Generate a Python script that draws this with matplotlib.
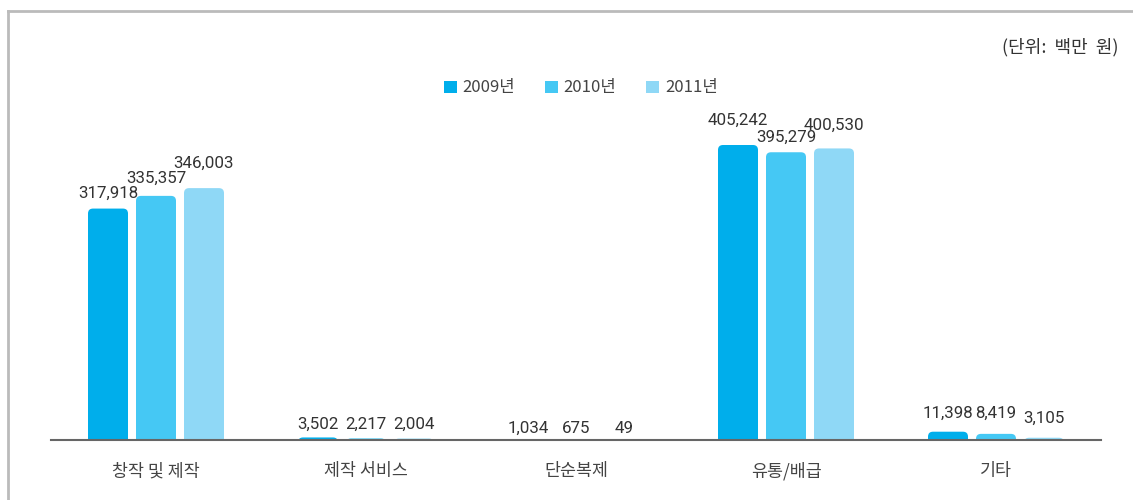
import matplotlib
matplotlib.use("Agg")
import matplotlib.pyplot as plt
from matplotlib.patches import FancyBboxPatch, Patch
from matplotlib.lines import Line2D
import numpy as np

plt.rcParams['font.family'] = ['Noto Sans CJK KR', 'DejaVu Sans']

categories = ['창작 및 제작', '제작 서비스', '단순복제', '유통/배급', '기타']
series_names = ['2009년', '2010년', '2011년']
v2009 = [317918, 3502, 1034, 405242, 11398]
v2010 = [335357, 2217, 675, 395279, 8419]
v2011 = [346003, 2004, 49, 400530, 3105]
unit_label = '(단위:  백만  원)'

# value-label lift above each bar (pixels), per series, per category
label_lift_px = [
    [11, 9, 6, 20, 14],
    [13, 10, 7, 10, 16],
    [20, 10, 7, 19, 15],
]

colors = ['#00AEEB', '#45C8F4', '#8FD8F6']
text_color = '#333333'

W, H = 1133, 500
fig = plt.figure(figsize=(W / 100, H / 100), dpi=100)
ax_left, ax_right = 51 / W, 1101 / W
ax_bottom, ax_top = (H - 440) / H, (H - 100) / H
ax = fig.add_axes([ax_left, ax_bottom, ax_right - ax_left, ax_top - ax_bottom])

ymax = 405242 * 340 / 295
ax.set_xlim(-0.5, len(categories) - 0.5)
ax.set_ylim(0, ymax)

x = np.arange(len(categories))
bw = 40 / 210
step = 48 / 210
all_vals = [v2009, v2010, v2011]

xpp = (len(categories)) / 1050
ypp = ymax / 340
aspect = ypp / xpp
r = 5 * xpp

for i, (vals, c, name) in enumerate(zip(all_vals, colors, series_names)):
    bars = ax.bar(x + (i - 1) * step, vals, width=bw, color=c, label=name)
    for j, (b, v) in enumerate(zip(bars, vals)):
        bx, bwid, bh = b.get_x(), b.get_width(), b.get_height()
        b.set_visible(False)
        p = FancyBboxPatch((bx, -r * aspect * 2), bwid, bh + r * aspect * 2,
                           boxstyle=f"round,pad=0,rounding_size={r}",
                           mutation_aspect=aspect, facecolor=c, edgecolor='none',
                           clip_on=True)
        ax.add_patch(p)
        ax.annotate(f"{v:,}", (bx + bwid / 2, bh), xytext=(0, label_lift_px[i][j]),
                    textcoords='offset pixels', ha='center', va='baseline',
                    fontsize=12.2, color=text_color, family=['Roboto', 'DejaVu Sans'])

for s in ['top', 'right', 'left']:
    ax.spines[s].set_visible(False)
ax.spines['bottom'].set_color('#666666')
ax.spines['bottom'].set_linewidth(1.5)
ax.set_yticks([])
ax.set_xticks(x)
ax.set_xticklabels(categories, fontsize=12.5, color='#444444')
ax.tick_params(axis='x', length=0, pad=16)

handles = [Patch(facecolor=c, edgecolor='none') for c in colors]
fig.legend(handles, series_names, loc='center', bbox_to_anchor=(581 / W, 1 - 88 / H),
           ncol=3, frameon=False, fontsize=12, handlelength=0.75, handleheight=0.75,
           handletextpad=0.35, columnspacing=1.8, labelcolor='#444444')

fig.text(1118 / W, 1 - 47 / H, unit_label, ha='right', va='center',
         fontsize=13, color=text_color)

fig.add_artist(Line2D([7.5 / W, 7.5 / W], [0, 1 - 11 / H], color='#BBBBBB', lw=2))
fig.add_artist(Line2D([7.5 / W, 1], [1 - 11 / H, 1 - 11 / H], color='#BBBBBB', lw=2))

fig.savefig('out.png', dpi=100)
